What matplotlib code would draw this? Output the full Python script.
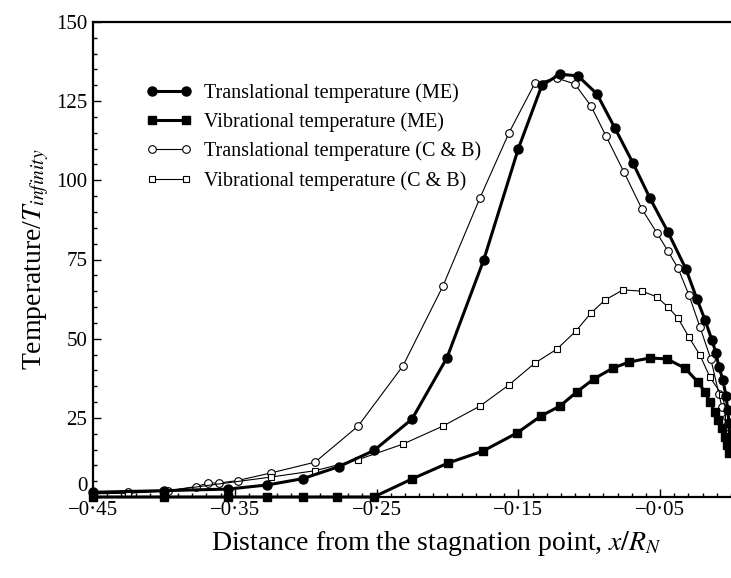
import numpy as np
import matplotlib
matplotlib.use("Agg")
import matplotlib.pyplot as plt
from matplotlib.ticker import FixedLocator, MultipleLocator
from matplotlib.transforms import ScaledTranslation

plt.rcParams['font.family'] = ['Liberation Serif', 'DejaVu Serif']
plt.rcParams['mathtext.fontset'] = 'stix'

# ---------------- data ----------------
# translational temperature, ME
x_tr_me = [-0.45, -0.40, -0.355, -0.327, -0.302, -0.2765, -0.2518, -0.225, -0.2003,
           -0.1743, -0.150, -0.1334, -0.1207, -0.108, -0.0946, -0.0819, -0.0692,
           -0.0572, -0.0445, -0.0318, -0.024, -0.0184, -0.0135, -0.0106, -0.0085,
           -0.0057, -0.0036, -0.0022, -0.0015, -0.0008]
y_tr_me = [1.5, 2.0, 2.5, 3.8, 5.8, 9.6, 14.7, 24.6, 44.0,
           75.0, 110.0, 130.0, 133.5, 133.0, 127.3, 116.5, 105.5,
           94.4, 83.7, 72.0, 62.5, 56.0, 49.6, 45.5, 41.0,
           37.0, 32.0, 27.5, 23.5, 19.0]

# vibrational temperature, ME
x_vib_me = [-0.45, -0.40, -0.355, -0.327, -0.302, -0.278, -0.252, -0.225, -0.1997,
            -0.175, -0.151, -0.134, -0.1207, -0.1087, -0.0967, -0.0833, -0.072,
            -0.0572, -0.0452, -0.0325, -0.0233, -0.0184, -0.0149, -0.0113, -0.0092,
            -0.0064, -0.0043, -0.0029, -0.0015]
y_vib_me = [0.0, 0.0, 0.0, 0.0, 0.0, 0.0, 0.0, 5.7, 10.7,
            14.5, 20.2, 25.6, 28.7, 33.2, 37.3, 40.7, 42.6,
            43.9, 43.6, 40.7, 36.3, 33.2, 30.0, 26.8, 24.3,
            21.8, 19.0, 16.4, 13.9]

# translational temperature, C & B
x_tr_cb = [-0.45, -0.425, -0.397, -0.377, -0.369, -0.361, -0.348, -0.3245, -0.2934,
           -0.263, -0.2314, -0.2032, -0.1771, -0.1566, -0.1383, -0.1228, -0.1101,
           -0.0988, -0.0882, -0.0755, -0.0628, -0.0523, -0.0445, -0.0374, -0.0297,
           -0.0219, -0.0142, -0.0085, -0.0064, -0.0029, -0.0015]
y_tr_cb = [1.5, 1.5, 2.0, 3.3, 4.4, 4.4, 5.2, 7.6, 11.0,
           22.4, 41.4, 66.6, 94.4, 115.0, 130.7, 132.3, 130.4,
           123.5, 114.0, 102.6, 90.9, 83.4, 77.7, 72.3, 63.8,
           53.7, 43.5, 32.5, 28.4, 25.3, 22.0]

# vibrational temperature, C & B
x_vib_cb = [-0.45, -0.425, -0.40, -0.3245, -0.2934, -0.263, -0.2314, -0.2032, -0.1771,
            -0.1566, -0.1383, -0.1228, -0.1094, -0.0988, -0.0889, -0.0762, -0.0628,
            -0.0523, -0.0445, -0.0374, -0.0297, -0.0219, -0.0149, -0.0064, -0.0022]
y_vib_cb = [1.0, 1.2, 1.8, 6.3, 8.3, 11.8, 16.7, 22.4, 28.7,
            35.4, 42.3, 46.7, 52.4, 58.1, 62.2, 65.4, 65.0,
            63.2, 60.0, 56.5, 50.5, 44.8, 37.9, 32.2, 25.3]

x_ticks = [-0.45, -0.35, -0.25, -0.15, -0.05]
x_tick_labels = ['\u22120\u00b745', '\u22120\u00b735', '\u22120\u00b725', '\u22120\u00b715', '\u22120\u00b705']
y_ticks = [0, 25, 50, 75, 100, 125, 150]

labels = ['Translational temperature (ME)', 'Vibrational temperature (ME)',
          'Translational temperature (C & B)', 'Vibrational temperature (C & B)']

# ---------------- plot ----------------
fig = plt.figure(figsize=(7.31, 5.78), dpi=100)
ax = fig.add_axes([93/731, 1 - 497/578, 1 - 93/731, (497 - 22)/578])

ax.plot(x_tr_me, y_tr_me, color='black', lw=2.2, marker='o', ms=6.5,
        mfc='black', mec='black', label=labels[0], clip_on=False, zorder=4)
ax.plot(x_vib_me, y_vib_me, color='black', lw=2.2, marker='s', ms=6,
        mfc='black', mec='black', label=labels[1], clip_on=False, zorder=4)
ax.plot(x_tr_cb, y_tr_cb, color='black', lw=0.8, marker='o', ms=5.5,
        mfc='white', mec='black', mew=0.8, label=labels[2], clip_on=False, zorder=3)
ax.plot(x_vib_cb, y_vib_cb, color='black', lw=0.8, marker='s', ms=5,
        mfc='white', mec='black', mew=0.8, label=labels[3], clip_on=False, zorder=3)

ax.set_xlim(-0.45, 0.0)
ax.set_ylim(0, 150)

ax.xaxis.set_major_locator(FixedLocator(x_ticks))
ax.set_xticklabels(x_tick_labels)
ax.xaxis.set_minor_locator(MultipleLocator(0.01))
ax.yaxis.set_major_locator(FixedLocator(y_ticks))
ax.yaxis.set_minor_locator(MultipleLocator(5))

ax.tick_params(axis='both', which='major', direction='in', length=6, width=1,
               labelsize=15, pad=3)
ax.tick_params(axis='both', which='minor', direction='in', length=3, width=1)
ax.tick_params(axis='x', which='major', pad=3)
ax.tick_params(axis='y', which='major', pad=4)

# lift the "0" on the y axis clear of the first x label
zero_lbl = ax.yaxis.get_major_ticks()[0].label1
zero_lbl.set_va('bottom')
zero_lbl.set_transform(zero_lbl.get_transform() +
                       ScaledTranslation(0, 1/72, fig.dpi_scale_trans))

for side in ['left', 'bottom', 'top']:
    ax.spines[side].set_linewidth(1.6)
ax.spines['right'].set_visible(False)
ax.tick_params(top=False, right=False, which='both')

ax.set_xlabel(r'Distance from the stagnation point, $x/R_N$', fontsize=20)
ax.xaxis.set_label_coords(0.538, -0.068)
ax.set_ylabel(r'Temperature/$T_{infinity}$', fontsize=20, labelpad=4)

leg = ax.legend(loc='upper left', bbox_to_anchor=(0.07, 0.888), frameon=False,
                numpoints=2, handlelength=2.3, handletextpad=0.6,
                labelspacing=0.47, fontsize=14.5, borderaxespad=0)

fig.savefig('out.png', dpi=100)
